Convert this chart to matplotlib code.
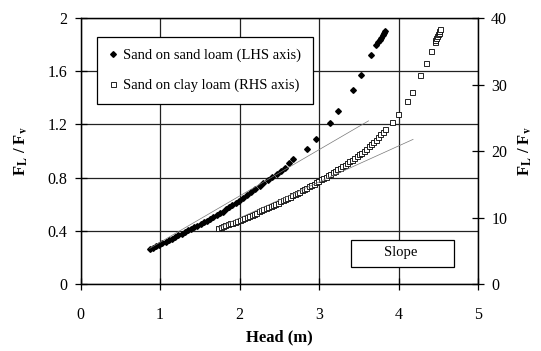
import matplotlib.pyplot as plt
from matplotlib.patches import Rectangle

plt.rcParams['font.family'] = ['Liberation Serif', 'DejaVu Serif']
plt.rcParams['mathtext.fontset'] = 'stix'

# sand on sand loam (LHS axis)
sand_x = [0.87, 0.91, 0.95, 0.99, 1.03, 1.07, 1.11, 1.15, 1.19, 1.23, 1.27, 1.31,
          1.35, 1.39, 1.43, 1.47, 1.51, 1.55, 1.59, 1.63, 1.67, 1.71, 1.75, 1.79,
          1.83, 1.87, 1.91, 1.95, 1.99, 2.04, 2.09, 2.14, 2.19, 2.25, 2.30, 2.36,
          2.41, 2.47, 2.52, 2.57, 2.62, 2.67, 2.85, 2.96, 3.13, 3.24, 3.42, 3.53,
          3.65, 3.72, 3.74, 3.76, 3.78, 3.80, 3.82, 3.83]
sand_y = [0.265, 0.275, 0.285, 0.297, 0.308, 0.320, 0.332, 0.343, 0.356, 0.368,
          0.381, 0.393, 0.405, 0.417, 0.429, 0.441, 0.453, 0.466, 0.479, 0.492,
          0.505, 0.518, 0.532, 0.546, 0.562, 0.578, 0.594, 0.611, 0.628, 0.650,
          0.672, 0.695, 0.717, 0.737, 0.760, 0.782, 0.806, 0.828, 0.852, 0.872,
          0.908, 0.940, 1.015, 1.088, 1.212, 1.302, 1.46, 1.57, 1.72, 1.80,
          1.82, 1.835, 1.85, 1.87, 1.885, 1.90]

# sand on clay loam (RHS axis)
clay_x = [1.73, 1.76, 1.79, 1.82, 1.85, 1.88, 1.91, 1.94, 1.97, 2.00, 2.03, 2.06,
          2.09, 2.12, 2.15, 2.18, 2.21, 2.24, 2.27, 2.30, 2.33, 2.36, 2.39, 2.42,
          2.45, 2.48, 2.51, 2.54, 2.57, 2.60, 2.63, 2.66, 2.69, 2.72, 2.75, 2.78,
          2.81, 2.84, 2.87, 2.90, 2.93, 2.96, 2.99, 3.02, 3.05, 3.08, 3.11, 3.14,
          3.17, 3.20, 3.23, 3.26, 3.29, 3.32, 3.35, 3.38, 3.41, 3.44, 3.47, 3.50,
          3.53, 3.56, 3.59, 3.62, 3.65, 3.68, 3.71, 3.74, 3.77, 3.80, 3.83,
          3.92, 3.99, 4.10, 4.17, 4.27, 4.34, 4.40,
          4.45, 4.46, 4.47, 4.48, 4.49, 4.50, 4.51, 4.52]
clay_y = [8.50, 8.62, 8.75, 8.88, 9.01, 9.14, 9.28, 9.42, 9.56, 9.70, 9.85, 10.00,
          10.15, 10.30, 10.46, 10.62, 10.78, 10.94, 11.10, 11.26, 11.42, 11.59,
          11.76, 11.93, 12.10, 12.27, 12.45, 12.63, 12.81, 12.99, 13.17, 13.36,
          13.55, 13.74, 13.93, 14.12, 14.32, 14.52, 14.72, 14.92, 15.12, 15.33,
          15.54, 15.75, 15.96, 16.17, 16.38, 16.60, 16.82, 17.04, 17.26, 17.49,
          17.72, 17.95, 18.20, 18.45, 18.71, 18.97, 19.24, 19.51, 19.79, 20.08,
          20.38, 20.70, 21.03, 21.38, 21.74, 22.12, 22.52, 22.94, 23.38,
          24.4, 25.6, 27.5, 28.9, 31.4, 33.2, 35.0,
          36.4, 36.7, 37.0, 37.3, 37.6, 37.8, 38.0, 38.3]

# slope (tangent) lines
slope_sand_x = [0.87, 3.62]
slope_sand_y = [0.27, 1.227]
slope_clay_x = [1.73, 4.18]
slope_clay_y = [8.5, 21.76]

fig = plt.figure(figsize=(5.41, 3.51), dpi=100)
ax = fig.add_axes([0.1488, 0.190, 0.7353, 0.759])
ax2 = ax.twinx()

ax.plot(sand_x, sand_y, 'D', color='black', markersize=2.9, label='Sand on sand loam (LHS axis)')
ax.plot(slope_sand_x, slope_sand_y, '-', color='#777777', lw=0.5)
ax2.plot(clay_x, clay_y, 's', markerfacecolor='white', markeredgecolor='black',
         markersize=3.6, markeredgewidth=0.6, label='Sand on clay loam (RHS axis)')
ax2.plot(slope_clay_x, slope_clay_y, '-', color='#777777', lw=0.5)

ax.set_xlim(0, 5)
ax.set_ylim(0, 2)
ax2.set_ylim(0, 40)
ax.set_xticks([0, 1, 2, 3, 4, 5])
ax.set_yticks([0, 0.4, 0.8, 1.2, 1.6, 2.0])
ax.set_yticklabels(['0', '0.4', '0.8', '1.2', '1.6', '2'])
ax2.set_yticks([0, 10, 20, 30, 40])
ax.grid(True, color='#222222', lw=0.9)
ax.set_axisbelow(True)

for a in (ax, ax2):
    a.tick_params(direction='inout', length=8.5, width=0.9, labelsize=11.5)
    for s in a.spines.values():
        s.set_linewidth(0.9)
ax.tick_params(axis='x', pad=12)
ax.tick_params(axis='y', pad=5)
ax2.tick_params(axis='y', pad=5)

ax.set_xlabel('Head (m)', fontsize=12, fontweight='bold')
ylab = r'F$_{\mathbf{L}}$ / F$_{\mathbf{v}}$'
ax.set_ylabel(ylab, fontsize=12, fontweight='bold')
ax2.set_ylabel(ylab, fontsize=12, fontweight='bold', rotation=90)
ax.xaxis.set_label_coords(0.501, -0.171)
ax.yaxis.set_label_coords(-0.127, 0.5)
ax2.yaxis.set_label_coords(1.097, 0.5)

h1, l1 = ax.get_legend_handles_labels()
h2, l2 = ax2.get_legend_handles_labels()
leg = ax2.legend(h1 + h2, l1 + l2, loc='upper left', bbox_to_anchor=(0.041, 0.927),
                 fancybox=False, framealpha=1, edgecolor='black', fontsize=10.5,
                 handlelength=0.6, handletextpad=0.4, labelspacing=1.1,
                 borderpad=0.8, borderaxespad=0)
leg.get_frame().set_linewidth(0.9)

ax2.add_patch(Rectangle((0.680, 0.065), 0.259, 0.101, transform=ax2.transAxes,
                        facecolor='white', edgecolor='black', lw=0.9, zorder=5))
ax2.text(0.805, 0.118, 'Slope', transform=ax2.transAxes, ha='center', va='center',
         fontsize=10.5, zorder=6)

fig.savefig('out.png', dpi=100)
